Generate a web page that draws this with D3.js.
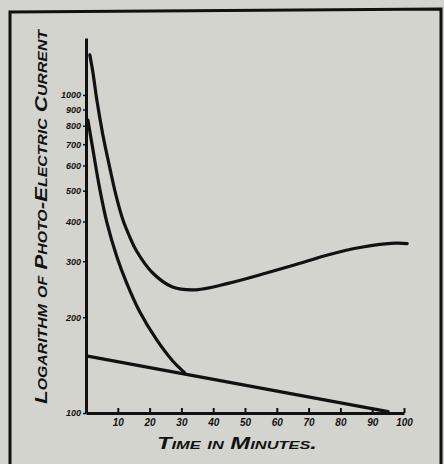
<!DOCTYPE html>
<html>
<head>
<meta charset="utf-8">
<script src="https://cdn.jsdelivr.net/npm/d3@7"></script>
<style>
  html, body { margin: 0; padding: 0; background: #d3d4cd; }
  svg { display: block; }
</style>
</head>
<body>
<div id="chart"></div>
<script>
// values (time in minutes, current on log scale)
const upperTime = [1.2, 2.2, 3.4, 5.3, 7.5, 9.4, 11.6, 13.75, 15.9, 20.9, 27.2, 34.7, 45, 55.3, 66, 76, 86.6, 97.2, 101];
const upperCurrent = [1336, 1173, 965, 749, 589, 485, 405, 358, 323, 276, 249, 244, 256, 273, 293, 314, 332, 342, 341];

const middleTime = [0.6, 2.2, 4.4, 6.6, 9.7, 12.8, 16.9, 22.2, 27.2, 31];
const middleCurrent = [834, 671, 502, 396, 310, 256, 208, 170, 146, 134];

const lowerTime = [0.5, 95];
const lowerCurrent = [151, 101];

const xTicks = [10, 20, 30, 40, 50, 60, 70, 80, 90, 100];
const yTicks = [100, 200, 300, 400, 500, 600, 700, 800, 900, 1000];

const width = 444, height = 464;

const svg = d3.select('#chart')
  .append('svg')
  .attr('width', width)
  .attr('height', height);

// paper
svg.append('rect').attr('width', width).attr('height', height).attr('fill', '#d3d4cd');

// outer frame
svg.append('path')
  .attr('d', 'M10,464 L10,12 L441,9 L441,464')
  .attr('fill', 'none')
  .attr('stroke', '#111')
  .attr('stroke-width', 3);

const x = d3.scaleLinear().domain([0, 100]).range([86, 404]);
const y = d3.scaleLog().domain([100, 1510]).range([413, 38]);

const font = '"Liberation Sans", "DejaVu Sans", sans-serif';

// X axis
svg.append('g')
  .attr('transform', `translate(0,${y(100)})`)
  .call(d3.axisBottom(x).tickValues(xTicks).tickSizeInner(-5).tickSizeOuter(0).tickPadding(6))
  .call(g => g.select('.domain').attr('stroke', '#111').attr('stroke-width', 3))
  .call(g => g.selectAll('.tick line').attr('stroke', '#111').attr('stroke-width', 2))
  .call(g => g.selectAll('.tick text')
    .attr('fill', '#111')
    .style('font-family', font)
    .style('font-style', 'italic')
    .style('font-weight', 'bold')
    .style('font-size', '10px'));

// Y axis
svg.append('g')
  .attr('transform', `translate(${x(0)},0)`)
  .call(d3.axisLeft(y).tickValues(yTicks).tickFormat(d3.format('d')).tickSizeInner(3).tickSizeOuter(0).tickPadding(2))
  .call(g => g.select('.domain').attr('stroke', '#111').attr('stroke-width', 3))
  .call(g => g.selectAll('.tick line').attr('stroke', '#111').attr('stroke-width', 1.5))
  .call(g => g.selectAll('.tick text')
    .attr('fill', '#111')
    .style('font-family', font)
    .style('font-style', 'italic')
    .style('font-weight', 'bold')
    .style('font-size', '9px'));

// curves
const series = [
  { t: upperTime, v: upperCurrent },
  { t: middleTime, v: middleCurrent },
  { t: lowerTime, v: lowerCurrent },
];

const line = d3.line()
  .x(d => x(d[0]))
  .y(d => y(d[1]))
  .curve(d3.curveCatmullRom.alpha(0.5));

series.forEach(s => {
  svg.append('path')
    .datum(s.t.map((t, i) => [t, s.v[i]]))
    .attr('fill', 'none')
    .attr('stroke', '#111')
    .attr('stroke-width', 3.2)
    .attr('stroke-linecap', 'round')
    .attr('d', line);
});

// axis titles
svg.append('text')
  .attr('x', 237)
  .attr('y', 449)
  .attr('text-anchor', 'middle')
  .attr('textLength', 160)
  .attr('lengthAdjust', 'spacingAndGlyphs')
  .attr('fill', '#111')
  .style('font-family', font)
  .style('font-style', 'italic')
  .style('font-weight', 'bold')
  .style('font-variant', 'small-caps')
  .style('font-size', '16px')
  .text('Time in Minutes.');

svg.append('text')
  .attr('transform', 'translate(47,217) rotate(-90)')
  .attr('text-anchor', 'middle')
  .attr('textLength', 374)
  .attr('lengthAdjust', 'spacingAndGlyphs')
  .attr('fill', '#111')
  .style('font-family', font)
  .style('font-style', 'italic')
  .style('font-weight', 'bold')
  .style('font-variant', 'small-caps')
  .style('font-size', '17px')
  .text('Logarithm of Photo-Electric Current');
</script>
</body>
</html>
